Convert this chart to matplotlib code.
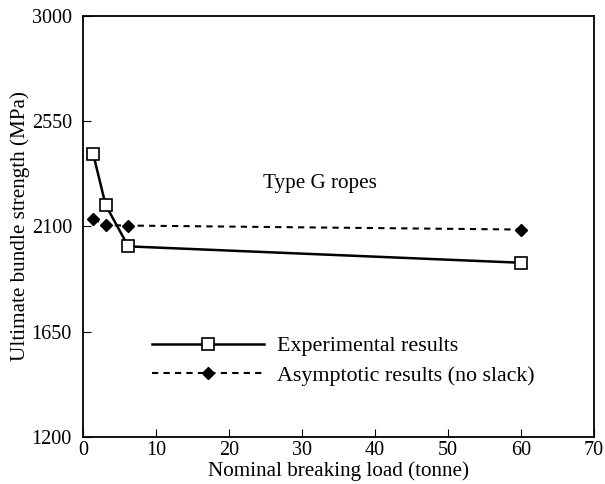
import matplotlib
matplotlib.use("Agg")
import matplotlib.pyplot as plt

# data
exp_load = [1.4, 3.1, 6.2, 60]
exp_strength = [2410, 2192, 2015, 1945]

asy_load = [1.4, 3.1, 6.2, 60]
asy_strength = [2132, 2106, 2104, 2087]

xticks = [0, 10, 20, 30, 40, 50, 60, 70]
yticks = [1200, 1650, 2100, 2550, 3000]

plt.rcParams['font.family'] = ['Liberation Serif', 'DejaVu Serif']

fig = plt.figure(figsize=(6.05, 4.84), dpi=100)
ax = fig.add_axes([83 / 605, 47 / 484, 511 / 605, 421 / 484])

ax.plot(exp_load, exp_strength, color='black', lw=1.8, marker='s',
        markersize=8, markerfacecolor='white', markeredgecolor='black',
        markeredgewidth=1.2, label='Experimental results')
ax.plot(asy_load, asy_strength, color='black', lw=1.5, ls=(0, (3, 2.5)),
        marker='D', markersize=6.5, markerfacecolor='black',
        label='Asymptotic results (no slack)')

ax.set_xlim(0, 70)
ax.set_ylim(1200, 3000)
ax.set_xticks(xticks)
ax.set_yticks(yticks)
ax.tick_params(direction='in', length=6, labelsize=14.5, top=False, right=False)
ax.tick_params(axis='y', pad=8)
ax.tick_params(axis='x', pad=3)
for s in ax.spines.values():
    s.set_linewidth(1.3)

ax.set_xlabel('Nominal breaking load (tonne)', fontsize=15.2, labelpad=1)
ax.set_ylabel('Ultimate bundle strength (MPa)', fontsize=15.2, labelpad=1)

ax.text(32.5, 2285, 'Type G ropes', fontsize=15.2, ha='center', va='center')

leg = ax.legend(loc='upper left', bbox_to_anchor=(0.135, 0.24), frameon=False,
                fontsize=15.8, handlelength=5.1, handletextpad=0.6,
                labelspacing=0.42, borderpad=0, borderaxespad=0)

fig.savefig('out.png', dpi=100)
